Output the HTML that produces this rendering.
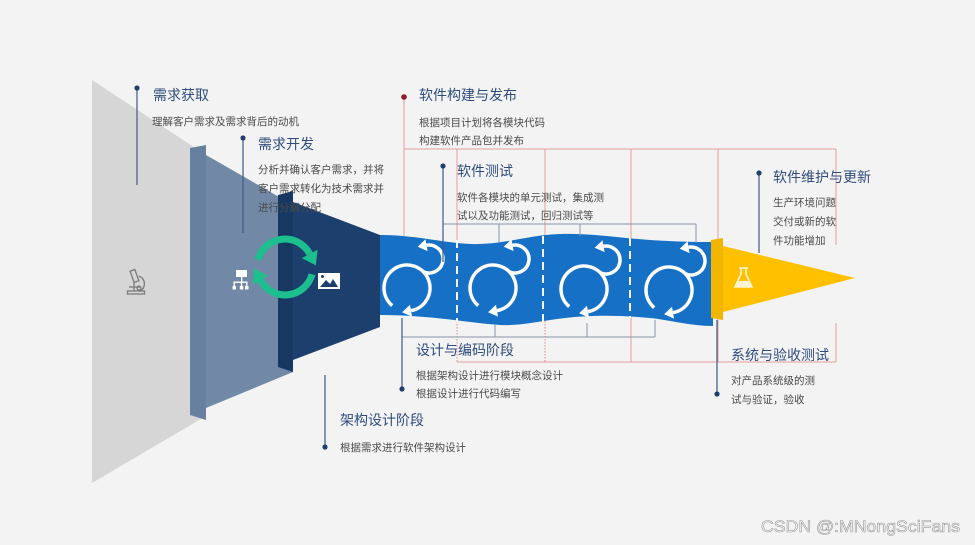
<!DOCTYPE html>
<html><head><meta charset="utf-8"><style>
html,body{margin:0;padding:0;background:#f3f3f3;}
svg{display:block;}
.t{font-family:"Liberation Sans","Noto Sans CJK SC",sans-serif;font-size:14px;fill:#2f4d7c;}
.d{font-family:"Liberation Sans","Noto Sans CJK SC",sans-serif;font-size:10.5px;fill:#4a4a4a;}
</style></head><body>
<svg width="975" height="545" viewBox="0 0 975 545" xmlns="http://www.w3.org/2000/svg">
<rect width="975" height="545" fill="#f3f3f3"/>

<!-- red guide lines -->
<g stroke="#d9585a" stroke-width="1" fill="none" opacity="0.55">
  <line x1="404" y1="97" x2="404" y2="236"/>
  <line x1="404" y1="149" x2="836" y2="149"/>
  <line x1="836" y1="149" x2="836" y2="245"/>
  <line x1="836" y1="323" x2="836" y2="362"/>
  <line x1="457" y1="362" x2="836" y2="362"/>
  <line x1="457" y1="149" x2="457" y2="300"/>
  <line x1="545" y1="149" x2="545" y2="300"/>
  <line x1="631" y1="149" x2="631" y2="362"/>
  <line x1="718" y1="149" x2="718" y2="362"/>
</g>
<g stroke="#d9585a" stroke-width="1" fill="none" opacity="0.7" stroke-dasharray="1.5,1.5">
  <line x1="457" y1="300" x2="457" y2="362"/>
  <line x1="545" y1="300" x2="545" y2="362"/>
</g>

<!-- gray funnel -->
<polygon points="92,80 206,155 206,416 92,483" fill="#d6d6d6"/>
<!-- slate panel -->
<polygon points="206,155 293,205 293,372 206,408" fill="#7189a6"/>
<polygon points="190,148 206,145 206,420 190,415" fill="#6880a0"/>
<!-- navy panel -->
<polygon points="293,202 380,235 380,327 293,360" fill="#1c3f6d"/>
<polygon points="278,195 293,191 293,372 278,367" fill="#173862"/>

<!-- blue band -->
<path d="M380,235 C420,235 450,245 480,244 C510,243 530,235 560,234 C590,233 620,238 650,240 C680,242 700,242 713,242 L713,326 C690,326 670,320 650,318 C620,315 590,315 565,318 C540,321 520,326 500,325 C470,323 430,315 380,315 Z" fill="#1570c6"/>

<!-- dashed separators -->
<g stroke="#ffffff" stroke-width="2" stroke-dasharray="8,5" opacity="0.95">
  <line x1="457" y1="240" x2="457" y2="322"/>
  <line x1="543" y1="236" x2="543" y2="322"/>
  <line x1="630" y1="238" x2="630" y2="318"/>
</g>

<!-- yellow arrow -->
<polygon points="723,246 855,278 723,312" fill="#ffc000"/>
<polygon points="711,240 723,238 723,320 711,318" fill="#f2b500"/>

<!-- cycle groups -->
<g fill="none" stroke="#ffffff" stroke-width="3.5">
  <path d="M392.2,305.6 A23,23 0 1 1 411,310.65"/>
  <path d="M478.2,305.6 A23,23 0 1 1 497,310.65"/>
  <path d="M569.2,306.6 A23,23 0 1 1 588,311.65"/>
  <path d="M654.2,307.6 A23,23 0 1 1 673,312.65"/>
  <path d="M423.1,271.7 A14,14 0 1 0 426.57,245.21"/>
  <path d="M509.1,271.7 A14,14 0 1 0 512.57,245.21"/>
  <path d="M600.1,272.7 A14,14 0 1 0 603.57,246.21"/>
  <path d="M685.1,273.7 A14,14 0 1 0 688.57,247.21"/>
</g>
<g fill="#ffffff">
  <polygon points="402.1,312.2 412,316.6 410,304.7"/>
  <polygon points="488.1,312.2 498,316.6 496,304.7"/>
  <polygon points="579.1,313.2 589,317.6 587,305.7"/>
  <polygon points="664.1,314.2 674,318.6 672,306.7"/>
  <polygon points="417.7,246.8 427.6,251.1 425.5,239.3"/>
  <polygon points="503.7,246.8 513.6,251.1 511.5,239.3"/>
  <polygon points="594.7,247.8 604.6,252.1 602.5,240.3"/>
  <polygon points="679.7,248.8 689.6,253.1 687.5,241.3"/>
</g>

<!-- gray bracket lines -->
<g stroke="#8796ab" stroke-width="1" fill="none">
  <polyline points="443,224 696,224"/>
  <line x1="499" y1="224" x2="499" y2="243"/>
  <line x1="580" y1="224" x2="580" y2="236"/>
  <line x1="696" y1="224" x2="696" y2="243"/>
  <line x1="402" y1="337" x2="655" y2="337"/>
  <line x1="495" y1="325" x2="495" y2="337"/>
  <line x1="587" y1="323" x2="587" y2="337"/>
  <line x1="655" y1="320" x2="655" y2="337"/>
</g>

<!-- label connector lines -->
<g stroke="#3d5a85" stroke-width="1.2">
  <line x1="137" y1="88" x2="137" y2="185"/>
  <line x1="243" y1="138" x2="243" y2="233"/>
  <line x1="325" y1="375" x2="325" y2="447"/>
  <line x1="402" y1="318" x2="402" y2="389"/>
  <line x1="443" y1="166" x2="443" y2="262"/>
  <line x1="759" y1="173" x2="759" y2="253"/>
  <line x1="717" y1="320" x2="717" y2="394"/>
</g>
<g fill="#1f3f6e">
  <circle cx="137" cy="88" r="2.6"/>
  <circle cx="243" cy="138" r="2.6"/>
  <circle cx="325" cy="447" r="2.6"/>
  <circle cx="402" cy="389" r="2.6"/>
  <circle cx="443" cy="166" r="2.6"/>
  <circle cx="759" cy="173" r="2.6"/>
  <circle cx="717" cy="394" r="2.6"/>
</g>
<circle cx="404" cy="97" r="2.8" fill="#8b1c2c"/>

<!-- green cycle -->
<g fill="none" stroke="#1cbf8d" stroke-width="7">
  <path d="M257.95,259.75 A28,28 0 0 1 309.7,253.9"/>
  <path d="M312.05,274.25 A28,28 0 0 1 260.3,280.1"/>
</g>
<g fill="#1cbf8d">
  <polygon points="315.8,265.4 317.6,249.7 301.8,258.1"/>
  <polygon points="254.2,268.6 252.4,284.3 268.2,275.9"/>
</g>

<!-- microscope icon -->
<g fill="none" stroke="#7a7a7a" stroke-width="1.3">
  <rect x="127.5" y="291" width="17" height="3"/>
  <line x1="129" y1="287" x2="140" y2="287"/>
  <path d="M139,276 C146,279 146,288 140,291"/>
  <rect x="132" y="270" width="5" height="12" transform="rotate(-20 134.5 276)"/>
  <line x1="134" y1="283" x2="134" y2="291"/>
  <circle cx="139" cy="288" r="2"/>
</g>

<!-- org chart icon -->
<g fill="#ffffff">
  <rect x="236" y="270" width="11" height="7"/>
  <rect x="241" y="277" width="1.4" height="5"/>
  <rect x="233.5" y="281.5" width="14" height="1.4"/>
  <rect x="233.5" y="281.5" width="1.4" height="5"/>
  <rect x="240.8" y="281.5" width="1.4" height="5"/>
  <rect x="246.1" y="281.5" width="1.4" height="5"/>
  <rect x="232.5" y="286" width="3.5" height="3.5"/>
  <rect x="239.8" y="286" width="3.5" height="3.5"/>
  <rect x="245" y="286" width="3.5" height="3.5"/>
</g>

<!-- image icon -->
<rect x="318" y="273" width="22" height="16" fill="#ffffff"/>
<polygon points="320,287 326,280 330,284 333,279 338,287" fill="#1c3f6d"/>
<circle cx="322.5" cy="276.5" r="1.5" fill="#1c3f6d"/>

<!-- flask icon -->
<g fill="none" stroke="#fff4d0" stroke-width="1.6">
  <path d="M739,268 H748 M741,268 V274 L735,287 H752 L746,274 V268"/>
</g>
<polygon points="738,281 749,281 752,287 735,287" fill="#fff4d0"/>

<!-- text -->
<text class="t" x="153" y="100">需求获取</text>
<text class="d" x="152" y="125">理解客户需求及需求背后的动机</text>

<text class="t" x="258" y="149">需求开发</text>
<text class="d" x="258" y="173">分析并确认客户需求，并将</text>
<text class="d" x="258" y="192">客户需求转化为技术需求并</text>
<text class="d" x="258" y="211">进行分解分配</text>

<text class="t" x="419" y="100">软件构建与发布</text>
<text class="d" x="419" y="126">根据项目计划将各模块代码</text>
<text class="d" x="419" y="144">构建软件产品包并发布</text>

<text class="t" x="457" y="176">软件测试</text>
<text class="d" x="457" y="201">软件各模块的单元测试，集成测</text>
<text class="d" x="457" y="219">试以及功能测试，回归测试等</text>

<text class="t" x="773" y="182">软件维护与更新</text>
<text class="d" x="773" y="206">生产环境问题</text>
<text class="d" x="773" y="225">交付或新的软</text>
<text class="d" x="773" y="244">件功能增加</text>

<text class="t" x="731" y="360">系统与验收测试</text>
<text class="d" x="731" y="384">对产品系统级的测</text>
<text class="d" x="731" y="403">试与验证，验收</text>

<text class="t" x="416" y="355">设计与编码阶段</text>
<text class="d" x="416" y="379">根据架构设计进行模块概念设计</text>
<text class="d" x="416" y="397">根据设计进行代码编写</text>

<text class="t" x="340" y="425">架构设计阶段</text>
<text class="d" x="340" y="451">根据需求进行软件架构设计</text>

<text x="761" y="532" font-family="Liberation Sans, sans-serif" font-size="17" fill="#f7f7f7" stroke="#9a9a9a" stroke-width="0.6" textLength="199" lengthAdjust="spacingAndGlyphs">CSDN @:MNongSciFans</text>
</svg>
</body></html>
